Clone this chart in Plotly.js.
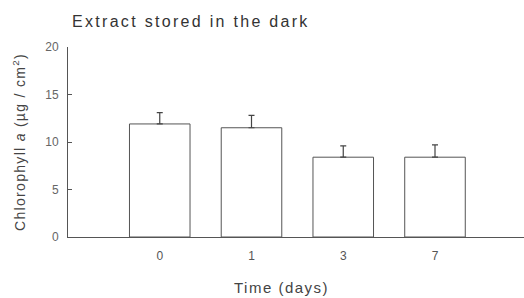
<!DOCTYPE html>
<html>
<head>
<meta charset="utf-8">
<script src="https://cdn.plot.ly/plotly-3.0.1.min.js"></script>
<style>
html, body { margin: 0; padding: 0; background: #fff; }
#chart { width: 524px; height: 298px; }
.gtitle { letter-spacing: 2.3px; }
.ytitle { letter-spacing: 1.3px; }
.annotation-text { letter-spacing: 1.5px; }
</style>
</head>
<body>
<div id="chart"></div>
<script>
var days = ['0', '1', '3', '7'];
var chlorophyll = [11.9, 11.5, 8.4, 8.4];
var errUpper = [1.2, 1.3, 1.2, 1.3];
var errLower = [0, 0, 0, 0];

var textColor = '#444';

var trace = {
  type: 'bar',
  x: days,
  y: chlorophyll,
  marker: { color: '#ffffff', line: { color: '#555', width: 1 } },
  error_y: {
    type: 'data',
    symmetric: false,
    array: errUpper,
    arrayminus: errLower,
    color: '#444',
    thickness: 1.2,
    width: 3
  },
  hoverinfo: 'none'
};

var layout = {
  width: 524,
  height: 298,
  margin: { l: 68, r: 0, t: 47, b: 61 },
  paper_bgcolor: '#fff',
  plot_bgcolor: '#fff',
  font: { family: 'Liberation Sans, Arial, sans-serif', color: textColor },
  showlegend: false,
  bargap: 0.34,
  title: {
    text: 'Extract stored in the dark',
    font: { size: 16, color: '#333' },
    xref: 'container', yref: 'container',
    x: 72 / 524, xanchor: 'left',
    y: 1 - 21 / 298, yanchor: 'middle'
  },
  annotations: [{
    text: 'Time (days)',
    xref: 'paper', yref: 'paper',
    x: (281 - 68) / 456, xanchor: 'center',
    y: -(287 - 237) / 190, yanchor: 'middle',
    showarrow: false,
    font: { size: 15, color: '#444' }
  }],
  xaxis: {
    type: 'category',
    categoryorder: 'array',
    categoryarray: days,
    range: [-1, 3.97],
    showline: true,
    linecolor: '#555',
    linewidth: 1,
    ticks: '',
    showgrid: false,
    zeroline: false,
    ticklabelstandoff: 8,
    tickfont: { size: 12, color: '#555' },
    fixedrange: true
  },
  yaxis: {
    range: [0, 20],
    dtick: 5,
    tick0: 0,
    showline: true,
    linecolor: '#555',
    linewidth: 1,
    ticks: 'inside',
    ticklen: 4,
    tickcolor: '#555',
    showgrid: false,
    zeroline: false,
    ticklabelstandoff: 6,
    tickfont: { size: 12, color: '#666' },
    title: { text: 'Chlorophyll <i>a</i> (µg / cm<sup>2</sup>)', font: { size: 14, color: '#444' }, standoff: 16 },
    fixedrange: true
  }
};

Plotly.newPlot('chart', [trace], layout, { displayModeBar: false, staticPlot: true });
</script>
</body>
</html>
